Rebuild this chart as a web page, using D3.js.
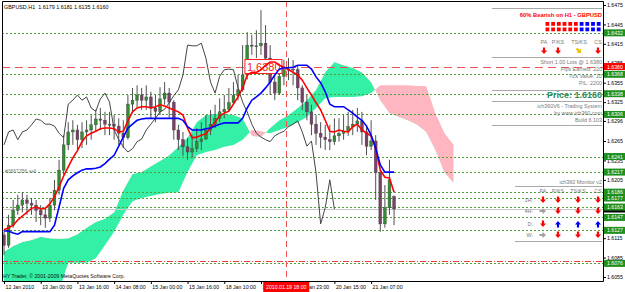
<!DOCTYPE html>
<html><head><meta charset="utf-8">
<script src="https://cdn.jsdelivr.net/npm/d3@7"></script>
<style>body{margin:0;background:#fff}svg{display:block}text{font-family:"Liberation Sans",Arial,sans-serif;white-space:pre}</style>
</head><body><svg id="c" width="625" height="292"></svg>
<script>
// ---------- DATA ----------
// H1 candles, one entry per 2 bars
const candleStep = 2;
const opens = [1.6120,1.6104,1.6135,1.6158,1.6166,1.6174,1.6169,1.6166,1.6158,1.6151,
1.6146,1.6166,1.6189,1.6220,1.6259,1.6279,1.6282,1.6267,1.6279,1.6282,
1.6290,1.6299,1.6297,1.6291,1.6291,1.6288,1.6277,1.6270,1.6322,1.6328,
1.6336,1.6328,1.6333,1.6316,1.6311,1.6330,1.6339,1.6325,1.6282,1.6267,
1.6256,1.6248,1.6253,1.6264,1.6268,1.6282,1.6291,1.6300,1.6310,1.6314,
1.6324,1.6335,1.6344,1.6367,1.6413,1.6412,1.6412,1.6416,1.6393,1.6356,
1.6339,1.6365,1.6375,1.6376,1.6375,1.6347,1.6325,1.6310,1.6291,1.6277,
1.6271,1.6267,1.6264,1.6273,1.6277,1.6280,1.6287,1.6291,1.6296,1.6279,
1.6257,1.6265,1.6216,1.6137,1.6162,1.6179];
const highs = [1.6125,1.6151,1.6174,1.6182,1.6186,1.6182,1.6177,1.6174,1.6166,1.6162,
1.6177,1.6205,1.6236,1.6274,1.6294,1.6297,1.6290,1.6294,1.6297,1.6305,
1.6313,1.6316,1.6310,1.6310,1.6305,1.6300,1.6297,1.6336,1.6347,1.6351,
1.6347,1.6351,1.6341,1.6336,1.6348,1.6356,1.6347,1.6328,1.6290,1.6279,
1.6270,1.6274,1.6285,1.6294,1.6305,1.6313,1.6321,1.6331,1.6336,1.6347,
1.6356,1.6367,1.6413,1.6433,1.6429,1.6436,1.6467,1.6444,1.6413,1.6375,
1.6382,1.6390,1.6393,1.6390,1.6382,1.6351,1.6336,1.6321,1.6305,1.6294,
1.6290,1.6290,1.6300,1.6300,1.6305,1.6310,1.6313,1.6316,1.6310,1.6290,
1.6297,1.6274,1.6220,1.6197,1.6236,1.6181];
const lows = [1.6089,1.6100,1.6131,1.6151,1.6155,1.6151,1.6151,1.6140,1.6135,1.6131,
1.6140,1.6158,1.6182,1.6213,1.6251,1.6259,1.6251,1.6254,1.6259,1.6267,
1.6279,1.6282,1.6274,1.6274,1.6267,1.6259,1.6254,1.6267,1.6310,1.6316,
1.6313,1.6313,1.6300,1.6294,1.6305,1.6321,1.6300,1.6267,1.6251,1.6242,
1.6236,1.6239,1.6248,1.6251,1.6267,1.6274,1.6285,1.6294,1.6300,1.6310,
1.6321,1.6328,1.6341,1.6360,1.6398,1.6393,1.6398,1.6378,1.6336,1.6328,
1.6336,1.6351,1.6359,1.6351,1.6328,1.6313,1.6297,1.6274,1.6259,1.6254,
1.6251,1.6251,1.6259,1.6264,1.6267,1.6273,1.6274,1.6279,1.6259,1.6243,
1.6251,1.6174,1.6125,1.6131,1.6151,1.6135];
const closes = [1.6104,1.6135,1.6158,1.6166,1.6174,1.6169,1.6166,1.6158,1.6151,1.6146,
1.6166,1.6189,1.6220,1.6259,1.6279,1.6282,1.6267,1.6279,1.6282,1.6290,
1.6299,1.6297,1.6291,1.6291,1.6288,1.6277,1.6270,1.6322,1.6328,1.6336,
1.6328,1.6333,1.6316,1.6311,1.6330,1.6339,1.6325,1.6282,1.6267,1.6256,
1.6248,1.6253,1.6264,1.6268,1.6282,1.6291,1.6300,1.6310,1.6314,1.6324,
1.6335,1.6344,1.6367,1.6413,1.6412,1.6412,1.6416,1.6393,1.6356,1.6339,
1.6365,1.6375,1.6376,1.6375,1.6347,1.6325,1.6310,1.6291,1.6277,1.6271,
1.6267,1.6264,1.6273,1.6277,1.6280,1.6287,1.6291,1.6296,1.6279,1.6257,
1.6265,1.6216,1.6137,1.6162,1.6205,1.6160];
// Tenkan-sen (red) and Kijun-sen (blue), one entry per 2 bars
const tenkan = [1.6128,1.6131,1.6135,1.6143,1.6149,1.6155,1.6161,1.6163,1.6160,1.6161,
1.6168,1.6179,1.6194,1.6211,1.6225,1.6239,1.6250,1.6264,1.6273,1.6277,
1.6280,1.6284,1.6285,1.6285,1.6284,1.6279,1.6280,1.6296,1.6310,1.6316,
1.6318,1.6318,1.6316,1.6318,1.6321,1.6319,1.6316,1.6313,1.6310,1.6305,
1.6285,1.6270,1.6271,1.6274,1.6276,1.6285,1.6294,1.6304,1.6308,1.6311,
1.6322,1.6333,1.6347,1.6367,1.6371,1.6371,1.6375,1.6382,1.6387,1.6387,
1.6382,1.6379,1.6375,1.6371,1.6367,1.6359,1.6347,1.6336,1.6324,1.6313,
1.6297,1.6280,1.6279,1.6282,1.6280,1.6279,1.6287,1.6291,1.6282,1.6277,
1.6273,1.6254,1.6220,1.6209,1.6208,1.6186];
const kijun = [1.6126,1.6126,1.6123,1.6121,1.6125,1.6125,1.6125,1.6125,1.6125,1.6125,
1.6125,1.6135,1.6163,1.6192,1.6205,1.6211,1.6216,1.6220,1.6222,1.6222,
1.6223,1.6225,1.6230,1.6237,1.6243,1.6257,1.6271,1.6285,1.6291,1.6297,
1.6299,1.6300,1.6300,1.6300,1.6300,1.6300,1.6300,1.6300,1.6300,1.6297,
1.6287,1.6282,1.6282,1.6282,1.6284,1.6285,1.6288,1.6291,1.6293,1.6293,
1.6293,1.6293,1.6300,1.6316,1.6328,1.6333,1.6339,1.6347,1.6356,1.6367,
1.6376,1.6378,1.6378,1.6379,1.6382,1.6382,1.6382,1.6376,1.6364,1.6355,
1.6341,1.6322,1.6318,1.6318,1.6318,1.6313,1.6308,1.6302,1.6297,1.6288,
1.6274,1.6254,1.6228,1.6217,1.6217,1.6217];
// Senkou span A / B (cloud), one entry per 4 bars
const cloudStep = 4;
const spanA = [1.6094,1.6103,1.6109,1.6112,1.6117,1.6115,1.6114,1.6115,1.6121,1.6131,
1.6140,1.6145,1.6155,1.6189,1.6214,1.6217,1.6226,1.6234,1.6243,1.6256,
1.6270,1.6294,1.6305,1.6307,1.6307,1.6305,1.6300,1.6273,1.6271,1.6285,
1.6297,1.6305,1.6316,1.6328,1.6344,1.6371,1.6387,1.6382,1.6378,1.6371,
1.6356,1.6328,1.6308,1.6302,1.6297,1.6290,1.6279,1.6251,1.6216,1.6200];
const spanB = [1.6035,1.6035,1.6035,1.6035,1.6035,1.6035,1.6035,1.6077,1.6077,1.6077,
1.6084,1.6104,1.6125,1.6151,1.6172,1.6177,1.6180,1.6183,1.6185,1.6186,
1.6217,1.6243,1.6248,1.6251,1.6256,1.6259,1.6267,1.6282,1.6280,1.6277,
1.6282,1.6287,1.6294,1.6302,1.6316,1.6331,1.6333,1.6333,1.6333,1.6334,
1.6339,1.6351,1.6351,1.6351,1.6351,1.6350,1.6350,1.6308,1.6277,1.6259];
const chikouShift = 26; // Chikou span = close plotted 26 bars back

// visible right-axis ticks (1.6175 and 1.6145 are fully covered by level labels in the reference)
const priceTicks = [1.6475,1.6445,1.6415,1.6385,1.6355,1.6325,1.6296,1.6265,1.6235,1.6205,1.6115,1.6085,1.6055];
const timeTickBars = [0,16,32,48,64,80,96,112,128,144,160];
const timeTickLabels = ["12 Jan 2010","13 Jan 00:00","13 Jan 16:00","14 Jan 08:00","15 Jan 00:00","15 Jan 16:00","18 Jan 10:00","19 Jan 02:00","19 Jan 23:00","20 Jan 15:00","21 Jan 07:00"];
const levelPrices = [1.6432,1.6368,1.6338,1.6306,1.6241,1.6217,1.6186,1.6177,1.6163,1.6147,1.6127,1.6076];
const orderPrice = 1.6380, bidPrice = 1.6160, targetPrice = 1.6079;
const orderBar = 105, cursorBar = 123;
const cursorLabel = "2010.01.19 18:00";
const headerText = "GBPUSD,H1  1.6179 1.6181 1.6135 1.6160";
const squareColors = ["r","r","r","r","r","r","b","b","b","b"];
const signalCols = ["PA","P/KS","TS/KS","CS"];
const topSignals = ["down","down","diag","down"];
const infoLines = ["Short 1.00 Lots @ 1.6380","Pips Earned: 220","Tick Value: 10","P/L: 2200"];
const sysLines = ["ich360V6 - Trading System","by www.ich360.com","Build 6.103"];
const monitorRows = ["1H:","4H:","D:","W:"];
const monitorSignals = [["down","down","down","down"],["flat","down","down","down"],["down","up","up","up"],["flat","down","down","down"]];

// ---------- CHART ----------
const W = 625, H = 292;
const P = {l:2, t:1, r:603, b:281};
const svg = d3.select("#c");
const x = d3.scaleLinear().domain([0, 261.5]).range([4, 604]);
const y = d3.scaleLinear().domain([1.6055, 1.6475]).range([277, 5]);
const defs = svg.append("defs");
defs.append("clipPath").attr("id","plot").append("rect")
  .attr("x",P.l).attr("y",P.t).attr("width",P.r-P.l).attr("height",P.b-P.t);
const g = svg.append("g").attr("clip-path","url(#plot)");

// cloud
const cloud = spanA.map((a,i)=>({bar:i*cloudStep, a, b:spanB[i]}));
const aEdge = d3.area().x(d=>x(d.bar)).y1(d=>y(d.a));
defs.append("clipPath").attr("id","aboveA").append("path").attr("d", aEdge.y0(0)(cloud));
defs.append("clipPath").attr("id","belowA").append("path").attr("d", aEdge.y0(H)(cloud));
const band = d3.area().x(d=>x(d.bar)).y0(d=>y(d.b)).y1(d=>y(d.a));
g.append("path").attr("d",band(cloud)).attr("fill","#33f0a6").attr("clip-path","url(#belowA)");
g.append("path").attr("d",band(cloud)).attr("fill","#ffb6c1").attr("clip-path","url(#aboveA)");

// level lines
g.selectAll(".lvl").data(levelPrices).join("line").attr("class","lvl")
  .attr("x1",P.l).attr("x2",P.r).attr("y1",d=>Math.round(y(d))+0.5).attr("y2",d=>Math.round(y(d))+0.5)
  .attr("stroke","#4fa03a").attr("stroke-width",1).attr("stroke-dasharray","2,2");
g.append("line").attr("x1",P.l).attr("x2",P.r).attr("y1",Math.round(y(bidPrice))+0.5).attr("y2",Math.round(y(bidPrice))+0.5)
  .attr("stroke","#c8c8c8");
g.append("line").attr("x1",P.l).attr("x2",P.r).attr("y1",Math.round(y(orderPrice))+0.5).attr("y2",Math.round(y(orderPrice))+0.5)
  .attr("stroke","#f05050").attr("stroke-dasharray","8,5");
g.append("line").attr("x1",P.l).attr("x2",P.r).attr("y1",Math.round(y(targetPrice))+0.5).attr("y2",Math.round(y(targetPrice))+0.5)
  .attr("stroke","#f04040").attr("stroke-dasharray","6,2,1,2");
g.append("line").attr("x1",Math.round(x(cursorBar))+0.5).attr("x2",Math.round(x(cursorBar))+0.5).attr("y1",P.t).attr("y2",P.b)
  .attr("stroke","#f05050").attr("stroke-dasharray","6,4");

// candles
const candles = closes.map((c,i)=>({bar:i*candleStep,o:opens[i],h:highs[i],l:lows[i],c}));
const cg = g.append("g");
cg.selectAll("line").data(candles).join("line")
  .attr("x1",d=>x(d.bar)).attr("x2",d=>x(d.bar)).attr("y1",d=>y(d.h)).attr("y2",d=>y(d.l))
  .attr("stroke","#505050").attr("stroke-width",1);
cg.selectAll("rect").data(candles).join("rect")
  .attr("x",d=>x(d.bar)-1.4).attr("width",2.8)
  .attr("y",d=>y(Math.max(d.o,d.c))).attr("height",d=>Math.max(1,Math.abs(y(d.o)-y(d.c))))
  .attr("fill",d=>d.c>=d.o?"#2f8f2f":"#7b3f6b").attr("stroke","#3c3c3c").attr("stroke-width",0.4);

// order label box
g.append("rect").attr("x",x(orderBar)).attr("y",y(orderPrice)-7).attr("width",37).attr("height",14)
  .attr("fill","#fff").attr("stroke","#ff2020");
g.append("text").attr("x",x(orderBar)+2).attr("y",y(orderPrice)+4).attr("font-size",11).attr("fill","#ff2020").text(orderPrice.toFixed(4));

// chikou, tenkan, kijun
const chikou = closes.map((c,i)=>({bar:i*candleStep-chikouShift, v:c})).filter(d=>d.bar>=0);
const line = d3.line().x(d=>x(d.bar)).y(d=>y(d.v));
g.append("path").attr("d",line(chikou)).attr("fill","none").attr("stroke","#454545").attr("stroke-width",1);
g.append("path").attr("d",line(tenkan.map((v,i)=>({bar:i*candleStep,v})))).attr("fill","none").attr("stroke","#ff0000").attr("stroke-width",1.6);
g.append("path").attr("d",line(kijun.map((v,i)=>({bar:i*candleStep,v})))).attr("fill","none").attr("stroke","#0000ff").attr("stroke-width",1.6);

// texts inside plot
g.append("text").attr("x",4).attr("y",9).attr("font-size",5.4).attr("fill","#000").text(headerText);
g.append("text").attr("x",5).attr("y",173).attr("font-size",5).attr("fill","#777").text("#3667356 sell");
g.append("text").attr("x",3).attr("y",278).attr("font-size",5.2).attr("fill","#111").text("HY Trader, © 2001-2009 MetaQuotes Software Corp.");

// right info panel
const sep = (y0,x0)=>svg.append("line").attr("x1",x0).attr("x2",602).attr("y1",y0+0.5).attr("y2",y0+0.5).attr("stroke","#a8a8a8");
[8,57,90,101,125].forEach(v=>sep(v,492));
[186,241].forEach(v=>sep(v,515));
const rtext = (t,yy,opts={})=>svg.append("text").attr("x",opts.x||602).attr("y",yy).attr("text-anchor",opts.anchor||"end")
  .attr("font-size",opts.size||5.4).attr("font-weight",opts.bold?"bold":"normal").attr("fill",opts.fill||"#7a7a7a").text(t);
rtext("60% Bearish on H1 - GBPUSD",17,{bold:true,fill:"#ff0000",size:5.8});
squareColors.forEach((c,i)=>{[22,27.5].forEach(yy=>{
  svg.append("rect").attr("x",545.5+i*5.7).attr("y",yy).attr("width",3.8).attr("height",3.8).attr("fill",c==="r"?"#ff0000":"#0000ff");});});
const colX = [544,558,579,598];
signalCols.forEach((c,i)=>rtext(c,44,{x:colX[i],anchor:"middle",size:5.4}));
infoLines.forEach((t,i)=>rtext(t,64+i*7,{}));
rtext("Price: 1.6160",98,{bold:true,fill:"#2e8b57",size:9});
sysLines.forEach((t,i)=>rtext(t,108+i*7,{}));

function arrow(cx,cy,type){
  const colors={down:"#ff0000",up:"#0000ff",flat:"#a0a0a0",diag:"#f0c000"};
  const p="M-3,-0.5 L-1.1,-0.5 L-1.1,-3.5 L1.1,-3.5 L1.1,-0.5 L3,-0.5 L0,3 Z";
  const rot={down:0,up:180,flat:-90,diag:-45}[type];
  svg.append("path").attr("d",p).attr("transform",`translate(${cx},${cy}) rotate(${rot})`).attr("fill",colors[type]);
}
topSignals.forEach((s,i)=>arrow(colX[i],51,s));

rtext("ich360 Monitor v2",184,{});
const colX2 = [543,558,578,598];
signalCols.forEach((c,i)=>rtext(c,193,{x:colX2[i],anchor:"middle"}));
const rowY = [200,211,224,235];
monitorRows.forEach((r,i)=>{
  rtext(r,rowY[i]+2,{x:533});
  monitorSignals[i].forEach((s,j)=>arrow(colX2[j],rowY[i],s));
});

// axes
const yAxis = d3.axisRight(y).tickValues(priceTicks).tickSize(3).tickFormat(d=>d.toFixed(4));
const ya = svg.append("g").attr("transform",`translate(${P.r},0)`).call(yAxis);
ya.select(".domain").remove();
ya.selectAll("text").attr("font-size",5.2).attr("x",4).attr("fill","#000");
ya.selectAll("line").attr("stroke","#000");
const xAxis = d3.axisBottom(x).tickValues(timeTickBars).tickSize(3).tickFormat((d,i)=>timeTickLabels[i]);
const xa = svg.append("g").attr("transform",`translate(0,${P.b})`).call(xAxis);
xa.select(".domain").remove();
xa.selectAll("text").attr("font-size",5.2).attr("text-anchor","start").attr("x",1).attr("y",4).attr("fill","#000");
xa.selectAll("line").attr("stroke","#000");

// border
svg.append("path").attr("d",`M${P.l+0.5},${P.t+0.5} H${P.r+0.5} V${P.b+0.5} H${P.l+0.5} Z`).attr("fill","none").attr("stroke","#000");

// level labels
svg.append("rect").attr("x",P.r+1).attr("y",y(bidPrice)-3.5).attr("width",22).attr("height",7).attr("fill","#000");
const lab = svg.selectAll(".lab").data(levelPrices).join("g").attr("class","lab");
lab.append("rect").attr("x",P.r+1).attr("y",d=>y(d)-3.5).attr("width",22).attr("height",7).attr("fill","#1f8f1f");
lab.append("text").attr("x",P.r+4).attr("y",d=>y(d)+2).attr("font-size",5.2).attr("fill","#fff").text(d=>d.toFixed(4));
svg.append("rect").attr("x",P.r+1).attr("y",y(orderPrice)-3.5).attr("width",22).attr("height",7).attr("fill","#ff0000");
svg.append("text").attr("x",P.r+4).attr("y",y(orderPrice)+2).attr("font-size",5.2).attr("fill","#fff").text(orderPrice.toFixed(4));

// cursor date label
svg.append("rect").attr("x",x(cursorBar)-23).attr("y",P.b+1).attr("width",46).attr("height",10).attr("fill","#ff0000");
svg.append("text").attr("x",x(cursorBar)).attr("y",P.b+8).attr("text-anchor","middle").attr("font-size",5.2).attr("fill","#fff").text(cursorLabel);
</script></body></html>
